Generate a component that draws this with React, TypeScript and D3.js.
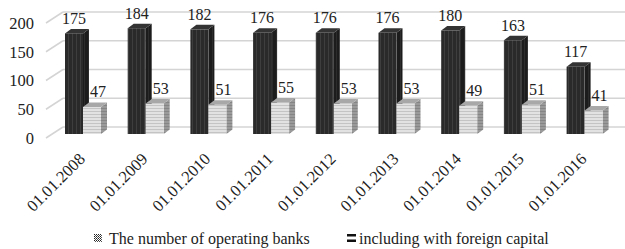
import React from "react";
import * as d3 from "d3";

const categories = ["01.01.2008", "01.01.2009", "01.01.2010", "01.01.2011", "01.01.2012", "01.01.2013", "01.01.2014", "01.01.2015", "01.01.2016"];
const operatingBanks = [175, 184, 182, 176, 176, 176, 180, 163, 117];
const foreignBanks = [47, 53, 51, 55, 53, 53, 49, 51, 41];
const yTicks = [0, 50, 100, 150, 200];
const seriesNames = ["The number of operating banks", "including with foreign capital"];

const W = 625;
const H = 249;
const font = "'Liberation Serif', 'Times New Roman', serif";

// 3d depth of the walls and of the bars
const wallDx = 17;
const wallDy = -11;
const barDx = 6;
const barDy = -4.5;
const barW = 18;

function Bar({ x, y0, y1, kind }: { x: number; y0: number; y1: number; kind: string }) {
  const front = kind === "dark" ? "url(#darkFront)" : "url(#lightFront)";
  const side = kind === "dark" ? "url(#darkSide)" : "url(#lightSide)";
  const top = kind === "dark" ? "#333" : "#a8a8a8";
  const topPts = [[x, y1], [x + barW, y1], [x + barW + barDx, y1 + barDy], [x + barDx, y1 + barDy]];
  const sidePts = [[x + barW, y1], [x + barW + barDx, y1 + barDy], [x + barW + barDx, y0 + barDy], [x + barW, y0]];
  return (
    <g>
      <polygon points={sidePts.map(p => p.join(",")).join(" ")} fill={side} />
      <rect x={x} y={y1} width={barW} height={y0 - y1} fill={front} />
      <polygon points={topPts.map(p => p.join(",")).join(" ")} fill={top} />
    </g>
  );
}

export default function App() {
  // front plane of the axis
  const x = d3.scaleBand().domain(categories).range([46, 46 + 9 * 62.7]).padding(0);
  const yFront = d3.scaleLinear().domain([0, 200]).range([138, 23]);
  const yBack = (v: number) => yFront(v) + wallDy;
  const yBar = d3.scaleLinear().domain([0, 200]).range([134, 19]);
  const txt = { fontFamily: font, fill: "#222" };

  return (
    <div style={{ position: "absolute", left: 0, top: 0 }}>
      <svg width={W} height={H} style={{ display: "block", background: "#fff" }}>
        <defs>
          <pattern id="darkFront" width="4" height="4" patternUnits="userSpaceOnUse">
            <rect width="4" height="4" fill="#2a2a2a" />
            <rect width="1" height="4" fill="#3e3e3e" />
          </pattern>
          <pattern id="darkSide" width="4" height="4" patternUnits="userSpaceOnUse">
            <rect width="4" height="4" fill="#1c1c1c" />
            <rect width="1" height="4" fill="#2c2c2c" />
          </pattern>
          <pattern id="lightFront" width="4" height="3" patternUnits="userSpaceOnUse">
            <rect width="4" height="3" fill="#e2e2e2" />
            <rect width="4" height="1" fill="#c4c4c4" />
          </pattern>
          <pattern id="lightSide" width="4" height="3" patternUnits="userSpaceOnUse">
            <rect width="4" height="3" fill="#9a9a9a" />
            <rect width="4" height="1" fill="#858585" />
          </pattern>
          <pattern id="legendDark" width="2" height="2" patternUnits="userSpaceOnUse">
            <rect width="2" height="2" fill="#fff" />
            <rect width="1" height="1" fill="#222" />
            <rect x="1" y="1" width="1" height="1" fill="#555" />
          </pattern>
        </defs>

        {/* gridlines: left wall and back wall */}
        {yTicks.map(t => (
          <g key={t} stroke="#d4d4d4" strokeWidth={1.5}>
            <line x1={46} y1={yFront(t)} x2={46 + wallDx} y2={yBack(t)} />
            <line x1={46 + wallDx} y1={yBack(t)} x2={W} y2={yBack(t)} />
          </g>
        ))}

        {/* y axis labels */}
        {yTicks.map(t => (
          <text key={t} x={34} y={yFront(t)} dy="0.35em" textAnchor="end" fontSize={16.5} style={txt}>{t}</text>
        ))}

        {/* bars */}
        {categories.map((c, i) => {
          const bx = (x(c) as number) + 19;
          return (
            <g key={c}>
              <Bar x={bx} y0={yBar(0)} y1={yBar(operatingBanks[i])} kind="dark" />
              <Bar x={bx + barW} y0={yBar(0)} y1={yBar(foreignBanks[i])} kind="light" />
              <text x={bx + barW / 2} y={yBar(operatingBanks[i]) + barDy - 5} textAnchor="middle" fontSize={16} style={txt}>{operatingBanks[i]}</text>
              <text x={bx + barW * 1.5 + 6} y={yBar(foreignBanks[i]) + barDy - 5} textAnchor="middle" fontSize={16} style={txt}>{foreignBanks[i]}</text>
            </g>
          );
        })}

        {/* x axis labels */}
        {categories.map(c => {
          const ax = (x(c) as number) + 40;
          const ay = 160;
          return (
            <text key={c} x={ax} y={ay} textAnchor="end" fontSize={16.5} style={txt} transform={`rotate(-45, ${ax}, ${ay})`}>{c}</text>
          );
        })}

        {/* legend */}
        <rect x={94} y={234} width={8} height={8} fill="url(#legendDark)" />
        <text x={109} y={238} dy="0.35em" fontSize={16} style={txt}>{seriesNames[0]}</text>
        <rect x={347} y={234} width={9} height={2.5} fill="#111" />
        <rect x={347} y={239.5} width={9} height={2.5} fill="#111" />
        <text x={359} y={238} dy="0.35em" fontSize={16} style={txt}>{seriesNames[1]}</text>
      </svg>
    </div>
  );
}
